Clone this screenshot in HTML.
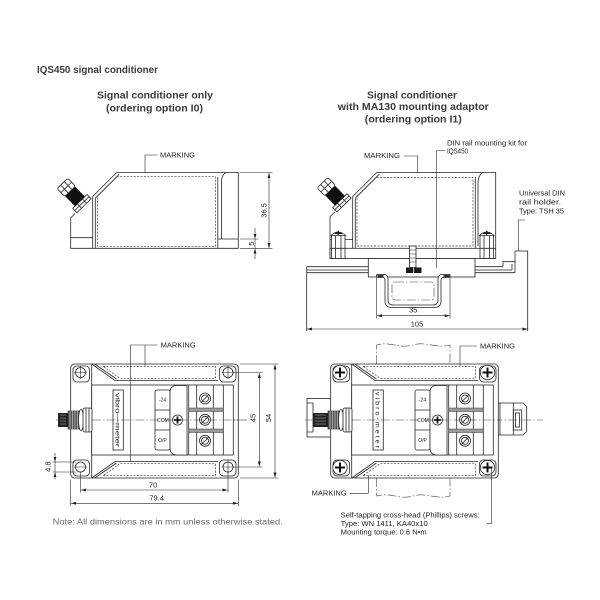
<!DOCTYPE html>
<html><head><meta charset="utf-8"><title>IQS450 signal conditioner</title><style>
html,body{margin:0;padding:0;background:#fff;}
svg{display:block;}
.s{fill:none;stroke:#262626;stroke-width:.8;}
.w{fill:#fff;stroke:#262626;stroke-width:.8;}
.d{fill:none;stroke:#3a3a3a;stroke-width:.7;stroke-dasharray:2 1.4;}
.c{fill:none;stroke:#444;stroke-width:.6;stroke-dasharray:9 2 1.5 2;}
.m{fill:none;stroke:#262626;stroke-width:.6;}
text{font-family:"Liberation Sans",sans-serif;fill:#222;}
.h{font-weight:bold;fill:#3a3a3a;}
</style></head><body>
<svg width="600" height="600" viewBox="0 0 600 600" xmlns="http://www.w3.org/2000/svg">
<defs>
<marker id="ar" viewBox="0 0 10 6" refX="10" refY="3" markerWidth="5" markerHeight="3" markerUnits="userSpaceOnUse" orient="auto-start-reverse"><path d="M0,0 L10,3 L0,6 z" fill="#222"/></marker>
</defs>
<rect width="600" height="600" fill="#fff"/>

<!-- Titles -->
<text class="h" x="37" y="73" font-size="10.5" textLength="121" lengthAdjust="spacingAndGlyphs">IQS450 signal conditioner</text>
<text class="h" x="155" y="98.5" font-size="10" text-anchor="middle" textLength="116" lengthAdjust="spacingAndGlyphs">Signal conditioner only</text>
<text class="h" x="154.5" y="111.5" font-size="10" text-anchor="middle" textLength="97" lengthAdjust="spacingAndGlyphs">(ordering option I0)</text>
<text class="h" x="412" y="98.5" font-size="10" text-anchor="middle" textLength="90" lengthAdjust="spacingAndGlyphs">Signal conditioner</text>
<text class="h" x="413.3" y="110.2" font-size="10" text-anchor="middle" textLength="151" lengthAdjust="spacingAndGlyphs">with MA130 mounting adaptor</text>
<text class="h" x="413.3" y="122.5" font-size="10" text-anchor="middle" textLength="97" lengthAdjust="spacingAndGlyphs">(ordering option I1)</text>

<!-- ============ VIEW A (side, signal conditioner only) ============ -->
<path class="s" d="M116.7,172.5 H238.3 V248.3 H70.7 V218 L75,213.5"/>
<path class="s" d="M116.7,172.5 L92.7,196.5 V248.3 M119.2,174.3 L95.3,198.2 V248.3"/>
<path class="s" d="M70.7,237.7 H92.7"/>
<path class="d" d="M97.5,196 L116.8,176.7 H215.5 V246.3 H97.5 Z"/>
<path class="s" d="M217.8,177 V248.3 M221.5,239 V182 Q221.5,175 226,172.5 M217.8,239 H238.3"/>
<g transform="translate(84,205.7) rotate(-134)">
<rect class="w" x="0" y="-10" width="6" height="20"/>
<path class="s" d="M3,-10 V10 M0,-3.5 H6 M0,3.5 H6"/>
<rect x="6" y="-6.5" width="14" height="13" fill="#111" stroke="#111" stroke-width=".8"/>
<rect class="w" x="20" y="-7.5" width="11" height="15" rx="2"/>
<path class="s" d="M20,-2.5 H31 M20,2.5 H31 M25.5,-7.5 V7.5"/>
</g>
<text x="160" y="157.5" font-size="7" textLength="35" lengthAdjust="spacingAndGlyphs">MARKING</text>
<path class="m" d="M157.5,155 H145 V172.5"/>
<path class="m" d="M240,172.5 H272.5 M240,248.3 H272.5 M240,239 H258.5"/>
<path class="m" d="M269,173 V248" marker-start="url(#ar)" marker-end="url(#ar)"/>
<path class="m" d="M255,228 V238.8" marker-end="url(#ar)"/>
<path class="m" d="M255,259 V248.6" marker-end="url(#ar)"/>
<path class="m" d="M255,239 V248.3"/>
<text transform="translate(266.7,210.5) rotate(-90)" font-size="7.5" text-anchor="middle">36.5</text>
<text transform="translate(253.8,243.6) rotate(-90)" font-size="7.5" text-anchor="middle">5</text>

<!-- ============ VIEW B (side, with MA130 adaptor) ============ -->
<path class="s" d="M376.7,172.5 H495.7 V248.3"/>
<path class="s" d="M376.7,172.5 L352.7,196.5 V248.3 M379.2,174.3 L355.3,198.2 V248.3"/>
<path class="s" d="M330,216.5 L335,212 M330,216.5 V258.5 M330,239.5 H352.7"/>
<path class="d" d="M357,196 L376,177.5 H473 V246 H357 Z"/>
<path class="s" d="M475.3,177 V248.3 M478,246 V183 Q478,176 482.5,172.5"/>
<g transform="translate(344,205) rotate(-134)">
<rect class="w" x="0" y="-10" width="6" height="20"/>
<path class="s" d="M3,-10 V10 M0,-3.5 H6 M0,3.5 H6"/>
<rect x="6" y="-6.5" width="14" height="13" fill="#111" stroke="#111" stroke-width=".8"/>
<rect class="w" x="20" y="-7.5" width="11" height="15" rx="2"/>
<path class="s" d="M20,-2.5 H31 M20,2.5 H31 M25.5,-7.5 V7.5"/>
</g>
<!-- flange -->
<rect class="w" x="330" y="248.3" width="165.7" height="10.2"/>
<!-- screws B -->
<rect class="w" x="331.5" y="235" width="13.5" height="23.5"/>
<path class="s" d="M335.5,235 V258.5 M341,235 V258.5 M331.5,248.3 H345"/>
<path class="w" d="M331,235.5 Q338.2,228.5 345.5,235.5 Z"/>
<path d="M334.5,233.3 H342 M338.2,230.8 V234.8" stroke="#111" stroke-width="1.4"/>
<rect class="w" x="480" y="235" width="13.5" height="23.5"/>
<path class="s" d="M484,235 V258.5 M489.5,235 V258.5 M480,248.3 H493.5"/>
<path class="w" d="M479.5,235.5 Q486.7,228.5 494,235.5 Z"/>
<path d="M483,233.3 H490.5 M486.7,230.8 V234.8" stroke="#111" stroke-width="1.4"/>
<!-- rail -->
<path class="s" d="M306.7,266.7 H368.3 M306.7,270 H368.3 M306.7,272.7 H368.3 M306.7,266.7 V331 M475,266.7 H503 M475,270 H512 M475,272.7 H515 M503,266.7 V261.7 H515 V251 H527.7 V331 M512,270 V264 M515,272.7 V261.7"/>
<!-- adaptor -->
<rect class="w" x="368.3" y="258.5" width="106.7" height="18.5"/>
<!-- channel -->
<path class="w" d="M376.7,274.5 H384 Q388,274.5 388,279 V300 Q388,305 393,305 H433 Q438,305 438,300 V279 Q438,274.5 442,274.5 H450 V277.5 H443 Q441,277.5 441,281 V301 Q441,307.5 434,307.5 H392 Q385,307.5 385,301 V281 Q385,277.5 383,277.5 H376.7 Z"/>
<rect x="377.5" y="274.8" width="6" height="2.4" fill="#333"/>
<rect x="443.5" y="274.8" width="6" height="2.4" fill="#333"/>
<rect class="c" x="392" y="282" width="42" height="18" rx="3"/>
<!-- bolt -->
<rect class="w" x="409.5" y="246" width="6.5" height="21.5"/>
<path class="m" d="M409.5,250 H416 M409.5,254 H416 M409.5,258 H416 M409.5,262 H416"/>
<rect x="406" y="267.5" width="15.5" height="5.5" fill="#1a1a1a"/>
<path d="M413.7,267.5 V273" stroke="#fff" stroke-width=".8"/>
<!-- labels B -->
<text x="364" y="158.2" font-size="7" textLength="36" lengthAdjust="spacingAndGlyphs">MARKING</text>
<path class="m" d="M404,156 H417.7 V172.5"/>
<text x="447" y="145.5" font-size="7" textLength="80" lengthAdjust="spacingAndGlyphs">DIN rail mounting kit for</text>
<text x="447" y="153.3" font-size="7" textLength="21" lengthAdjust="spacingAndGlyphs">IQS450</text>
<path class="m" d="M445.5,150.5 H436.7 V268"/>
<text x="519" y="195.3" font-size="7" textLength="46" lengthAdjust="spacingAndGlyphs">Universal DIN</text>
<text x="519" y="204.5" font-size="7" textLength="42" lengthAdjust="spacingAndGlyphs">rail holder.</text>
<text x="519" y="213.7" font-size="7" textLength="45" lengthAdjust="spacingAndGlyphs">Type: TSH 35</text>
<path class="m" d="M525,220 H518.3 V251"/>
<!-- dims B -->
<path class="m" d="M376.7,278 V318.5 M450,278 V318.5"/>
<path class="m" d="M377,315.7 H449.7" marker-start="url(#ar)" marker-end="url(#ar)"/>
<text x="413.3" y="312.6" font-size="7.5" text-anchor="middle">35</text>
<path class="m" d="M307,329 H527.4" marker-start="url(#ar)" marker-end="url(#ar)"/>
<text x="417" y="326.4" font-size="7.5" text-anchor="middle">105</text>

<!-- ============ VIEW C (top, signal conditioner only) ============ -->
<path class="c" d="M56,420 H247"/>
<g>
<rect class="s" x="70.7" y="364" width="167.6" height="114" rx="4"/>
<rect class="s" x="73" y="366" width="16.5" height="16" rx="4"/>
<rect class="s" x="219.5" y="366" width="16.5" height="16" rx="4"/>
<rect class="s" x="73" y="460" width="16.5" height="16" rx="4"/>
<rect class="s" x="219.5" y="460" width="16.5" height="16" rx="4"/>
<path class="s" d="M91.7,364 V478 M91.7,364 L115,380.5 H218 M94.7,364 L116.5,379 M91.7,478 L115,461.5 H218 M94.7,478 L116.5,463"/>
<path class="d" d="M103,366.3 H215.5 V378.3 H120 Z M103,475.7 H215.5 V463.7 H120 Z"/>
<rect class="w" x="91.7" y="385" width="141.6" height="70"/>
<rect class="w" x="113" y="390" width="10.3" height="60"/>
<text transform="translate(115.6,420) rotate(90)" font-size="6.5" text-anchor="middle" textLength="54" lengthAdjust="spacingAndGlyphs">vibro—meter</text>
<rect class="w" x="155" y="390" width="15" height="60" rx="2"/>
<path class="s" d="M155,410 H170 M155,430 H170"/>
<text x="162.5" y="401.5" font-size="5" text-anchor="middle">-24</text>
<text x="163" y="422" font-size="5" text-anchor="middle">COM</text>
<text x="162.5" y="442" font-size="5" text-anchor="middle">O/P</text>
<path class="w" d="M187,385.5 H177 Q170,385.5 170,392.5 V448 Q170,455 177,455 H187 Z"/>
<circle class="w" cx="177.5" cy="420" r="5"/>
<path d="M174,420 H181 M177.5,416.5 V423.5" stroke="#111" stroke-width="1.8"/>
<path class="s" d="M188.7,385 V455 M196.7,385 V455 M213.3,385 V455 M223.3,385 V455"/>
<rect x="188.7" y="408" width="34.6" height="3.5" fill="#9b9b9b" stroke="#333" stroke-width=".5"/>
<rect x="188.7" y="429" width="34.6" height="3.5" fill="#9b9b9b" stroke="#333" stroke-width=".5"/>
<circle class="w" cx="205" cy="398.5" r="5.5"/><circle class="s" cx="205" cy="398.5" r="3.5"/><path class="s" d="M201,402.5 L209,394.5"/>
<circle class="w" cx="205" cy="419.8" r="5.5"/><circle class="s" cx="205" cy="419.8" r="3.5"/><path class="s" d="M201,423.8 L209,415.8"/>
<circle class="w" cx="205" cy="440.8" r="5.5"/><circle class="s" cx="205" cy="440.8" r="3.5"/><path class="s" d="M201,444.8 L209,436.8"/>
</g>
<path class="c" d="M92,420 H247"/>
<!-- holes C -->
<circle class="s" cx="80.5" cy="372.5" r="5"/>
<circle class="s" cx="228" cy="372.5" r="5"/>
<circle class="s" cx="80.5" cy="467" r="5"/>
<circle class="s" cx="228" cy="467" r="5"/>
<path class="m" d="M74,372.5 H87 M80.5,366 V379 M221.5,372.5 H234.5 M228,366 V379 M74,467 H87 M228,460.5 V473.5 M221.5,467 H234.5"/>
<!-- connector C -->
<rect x="58" y="413" width="10" height="14" fill="#222"/>
<path d="M60,415 H66 M60,418 H66 M60,421 H66 M60,424 H66" stroke="#bbb" stroke-width=".6"/>
<rect x="68" y="411" width="12" height="18" fill="#555" stroke="#222" stroke-width=".6"/>
<path d="M70,411 V429 M72.5,411 V429 M75,411 V429 M77.5,411 V429" stroke="#ddd" stroke-width=".6"/>
<ellipse class="w" cx="81" cy="420" rx="2.5" ry="10.5"/>
<rect class="w" x="83" y="408" width="9" height="24" rx="2"/>
<path class="s" d="M86,408 V432 M89,408 V432"/>
<!-- marking C -->
<text x="160.7" y="347.5" font-size="7" textLength="35" lengthAdjust="spacingAndGlyphs">MARKING</text>
<path class="m" d="M157.5,345 H130.5 V461.5 M145,345 V366"/>
<!-- dims C -->
<path class="m" d="M80.5,472 V492.5 M228,472 V492.5"/>
<path class="m" d="M81,490 H227.5" marker-start="url(#ar)" marker-end="url(#ar)"/>
<text x="153" y="487.4" font-size="7.5" text-anchor="middle">70</text>
<path class="m" d="M70.7,479.5 V506 M238.3,479.5 V506"/>
<path class="m" d="M71,503.3 H238" marker-start="url(#ar)" marker-end="url(#ar)"/>
<text x="156.7" y="500.4" font-size="7.5" text-anchor="middle">79.4</text>
<path class="m" d="M233,372.5 H262.5 M233,467 H262.5"/>
<path class="m" d="M259.3,373 V466.5" marker-start="url(#ar)" marker-end="url(#ar)"/>
<text transform="translate(255.3,418) rotate(-90)" font-size="7.5" text-anchor="middle">45</text>
<path class="m" d="M240,364 H278.5 M240,478 H278.5"/>
<path class="m" d="M275,364.5 V477.5" marker-start="url(#ar)" marker-end="url(#ar)"/>
<text transform="translate(271,418) rotate(-90)" font-size="7.5" text-anchor="middle">54</text>
<path class="m" d="M52.5,462 H76 M52.5,472 H76"/>
<path class="m" d="M55,453 V461.8" marker-end="url(#ar)"/>
<path class="m" d="M55,479.5 V472.2" marker-end="url(#ar)"/>
<path class="m" d="M55,462 V472"/>
<text transform="translate(50.5,466.7) rotate(-90)" font-size="7.5" text-anchor="middle">4.8</text>
<text x="52.7" y="524.5" font-size="8" fill="#666" style="fill:#666" textLength="230" lengthAdjust="spacingAndGlyphs">Note: All dimensions are in mm unless otherwise stated.</text>

<!-- ============ VIEW D (top, with adaptor) ============ -->
<!-- rail dash-dot outlines -->
<path class="c" d="M376.7,364 V345 C390,341 400,349 413,345 C426,341 436,349 450,345 V364"/>
<path class="c" d="M376.7,478 V496 C390,492 400,500 413,496 C426,492 436,500 450,496 V478"/>
<!-- stubs -->
<rect class="w" x="307" y="398.5" width="24" height="38.5"/>
<path class="s" d="M313,403 V432 M307,403 H313 M307,432 H313"/>
<path class="w" d="M496.7,403 H523 L526.7,406.5 V431.5 L523,435 H496.7 Z"/>
<path class="s" d="M500,403 V435 M513.3,403 V435"/>
<rect class="s" x="513.3" y="410" width="8.4" height="20"/>
<rect class="s" x="515.5" y="413" width="4" height="14"/>
<path class="c" d="M305,420 H543"/>
<g transform="translate(260,0)">
<rect class="w" x="70.7" y="364" width="167.6" height="114" rx="4"/>
<rect class="s" x="73" y="366" width="16.5" height="16" rx="4"/>
<rect class="s" x="219.5" y="366" width="16.5" height="16" rx="4"/>
<rect class="s" x="73" y="460" width="16.5" height="16" rx="4"/>
<rect class="s" x="219.5" y="460" width="16.5" height="16" rx="4"/>
<path class="s" d="M91.7,364 V478 M91.7,364 L115,380.5 H218 M94.7,364 L116.5,379 M91.7,478 L115,461.5 H218 M94.7,478 L116.5,463"/>
<path class="d" d="M103,366.3 H215.5 V378.3 H120 Z M103,475.7 H215.5 V463.7 H120 Z"/>
<rect class="w" x="91.7" y="385" width="141.6" height="70"/>
<rect class="w" x="113" y="390" width="10.3" height="60"/>
<text transform="translate(115.6,420) rotate(90)" font-size="6.5" text-anchor="middle" textLength="56" lengthAdjust="spacingAndGlyphs">v i b r o - m e t e r</text>
<rect class="w" x="155" y="390" width="15" height="60" rx="2"/>
<path class="s" d="M155,410 H170 M155,430 H170"/>
<text x="162.5" y="401.5" font-size="5" text-anchor="middle">-24</text>
<text x="163" y="422" font-size="5" text-anchor="middle">COM</text>
<text x="162.5" y="442" font-size="5" text-anchor="middle">O/P</text>
<path class="w" d="M187,385.5 H177 Q170,385.5 170,392.5 V448 Q170,455 177,455 H187 Z"/>
<circle class="w" cx="177.5" cy="420" r="5"/>
<path d="M174,420 H181 M177.5,416.5 V423.5" stroke="#111" stroke-width="1.8"/>
<path class="s" d="M188.7,385 V455 M196.7,385 V455 M213.3,385 V455 M223.3,385 V455"/>
<rect x="188.7" y="408" width="34.6" height="3.5" fill="#9b9b9b" stroke="#333" stroke-width=".5"/>
<rect x="188.7" y="429" width="34.6" height="3.5" fill="#9b9b9b" stroke="#333" stroke-width=".5"/>
<circle class="w" cx="205" cy="398.5" r="5.5"/><circle class="s" cx="205" cy="398.5" r="3.5"/><path class="s" d="M201,402.5 L209,394.5"/>
<circle class="w" cx="205" cy="419.8" r="5.5"/><circle class="s" cx="205" cy="419.8" r="3.5"/><path class="s" d="M201,423.8 L209,415.8"/>
<circle class="w" cx="205" cy="440.8" r="5.5"/><circle class="s" cx="205" cy="440.8" r="3.5"/><path class="s" d="M201,444.8 L209,436.8"/>
<path class="c" d="M92,420 H240"/>
<!-- phillips screws -->
<circle class="w" cx="80" cy="372.5" r="7.2"/>
<circle class="w" cx="227.5" cy="372.5" r="7.2"/>
<circle class="w" cx="80" cy="467.5" r="7.2"/>
<circle class="w" cx="227.5" cy="467.5" r="7.2"/>
<path d="M75,372.5 H85 M80,367.5 V377.5 M222.5,372.5 H232.5 M227.5,367.5 V377.5 M75,467.5 H85 M80,462.5 V472.5 M222.5,467.5 H232.5 M227.5,462.5 V472.5" stroke="#111" stroke-width="2"/>
<!-- connector D -->
<rect x="53" y="413" width="15" height="14" fill="#222"/>
<path d="M55,415 H66 M55,418 H66 M55,421 H66 M55,424 H66" stroke="#bbb" stroke-width=".6"/>
<rect x="68" y="411" width="12" height="18" fill="#555" stroke="#222" stroke-width=".6"/>
<path d="M70,411 V429 M72.5,411 V429 M75,411 V429 M77.5,411 V429" stroke="#ddd" stroke-width=".6"/>
<ellipse class="w" cx="81" cy="420" rx="2.5" ry="10.5"/>
<rect class="w" x="83" y="408" width="9" height="24" rx="2"/>
<path class="s" d="M86,408 V432 M89,408 V432"/>
</g>
<!-- labels D -->
<text x="480" y="348.5" font-size="7" textLength="35" lengthAdjust="spacingAndGlyphs">MARKING</text>
<path class="m" d="M477,346 H460 V366"/>
<text x="311.7" y="495.7" font-size="7" textLength="35" lengthAdjust="spacingAndGlyphs">MARKING</text>
<path class="m" d="M350,493.3 H368.3 V475"/>
<path class="m" d="M491.7,467.5 V523.3 H487"/>
<text x="340.7" y="517.6" font-size="7" textLength="139" lengthAdjust="spacingAndGlyphs">Self-tapping cross-head (Phillips) screws:</text>
<text x="340.7" y="526" font-size="7" textLength="87" lengthAdjust="spacingAndGlyphs">Type: WN 1411, KA40x10</text>
<text x="340.7" y="534.3" font-size="7" textLength="86" lengthAdjust="spacingAndGlyphs">Mounting torque: 0.6 N•m</text>
</svg>
</body></html>
